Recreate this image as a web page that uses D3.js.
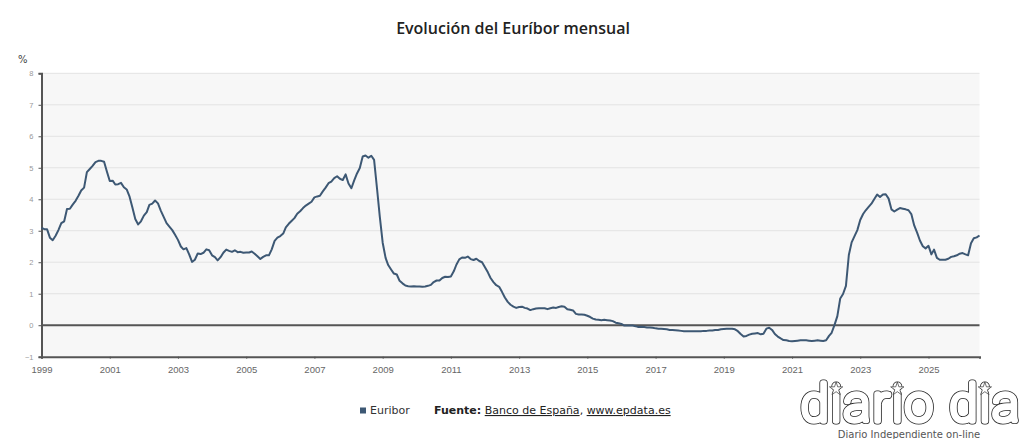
<!DOCTYPE html>
<html>
<head>
<meta charset="utf-8">
<script src="https://cdn.jsdelivr.net/npm/d3@7"></script>
<style>
  html, body { margin: 0; padding: 0; background: #fff; }
  svg { display: block; }
</style>
</head>
<body>
<div id="chart"></div>
<script>
'use strict'

// Euribor a un año, media mensual (ene 1999 - jul 2026)
const startYear = 1999;
const euribor = [
  3.09, 3.05, 3.05, 2.78, 2.70, 2.84, 3.02, 3.24, 3.30, 3.69, 3.70, 3.83,   // 1999
  3.95, 4.11, 4.28, 4.37, 4.86, 4.96, 5.06, 5.18, 5.22, 5.22, 5.19, 4.88,   // 2000
  4.58, 4.59, 4.47, 4.48, 4.52, 4.38, 4.31, 4.08, 3.73, 3.37, 3.20, 3.30,   // 2001
  3.48, 3.59, 3.82, 3.86, 3.96, 3.87, 3.64, 3.44, 3.24, 3.13, 3.02, 2.87,   // 2002
  2.71, 2.50, 2.41, 2.45, 2.25, 2.01, 2.08, 2.28, 2.26, 2.30, 2.41, 2.38,   // 2003
  2.22, 2.16, 2.06, 2.16, 2.30, 2.40, 2.36, 2.33, 2.38, 2.32, 2.33, 2.30,   // 2004
  2.31, 2.31, 2.34, 2.27, 2.19, 2.10, 2.17, 2.22, 2.22, 2.41, 2.68, 2.78,   // 2005
  2.83, 2.91, 3.11, 3.22, 3.31, 3.40, 3.54, 3.62, 3.72, 3.80, 3.86, 3.92,   // 2006
  4.06, 4.09, 4.11, 4.25, 4.37, 4.51, 4.56, 4.67, 4.73, 4.65, 4.61, 4.79,   // 2007
  4.50, 4.35, 4.59, 4.82, 4.99, 5.36, 5.39, 5.32, 5.38, 5.25, 4.35, 3.45,   // 2008
  2.62, 2.14, 1.91, 1.77, 1.64, 1.61, 1.41, 1.33, 1.26, 1.24, 1.23, 1.24,   // 2009
  1.23, 1.23, 1.22, 1.23, 1.25, 1.28, 1.37, 1.42, 1.42, 1.50, 1.54, 1.53,   // 2010
  1.55, 1.71, 1.92, 2.09, 2.15, 2.14, 2.18, 2.10, 2.07, 2.11, 2.04, 2.00,   // 2011
  1.84, 1.68, 1.50, 1.37, 1.27, 1.22, 1.06, 0.88, 0.74, 0.65, 0.59, 0.55,   // 2012
  0.58, 0.59, 0.55, 0.53, 0.48, 0.51, 0.53, 0.54, 0.54, 0.54, 0.51, 0.54,   // 2013
  0.56, 0.55, 0.58, 0.60, 0.59, 0.51, 0.49, 0.47, 0.36, 0.34, 0.34, 0.33,   // 2014
  0.30, 0.26, 0.21, 0.18, 0.17, 0.16, 0.17, 0.16, 0.15, 0.13, 0.08, 0.06,   // 2015
  0.04, -0.01, -0.01, -0.01, -0.01, -0.03, -0.06, -0.05, -0.06, -0.07, -0.07, -0.08, // 2016
  -0.10, -0.11, -0.11, -0.12, -0.13, -0.15, -0.15, -0.16, -0.17, -0.18, -0.19, -0.19, // 2017
  -0.19, -0.19, -0.19, -0.19, -0.19, -0.18, -0.18, -0.17, -0.17, -0.15, -0.15, -0.13, // 2018
  -0.12, -0.11, -0.11, -0.11, -0.13, -0.19, -0.28, -0.36, -0.34, -0.30, -0.27, -0.26, // 2019
  -0.25, -0.29, -0.27, -0.11, -0.08, -0.15, -0.28, -0.36, -0.42, -0.47, -0.48, -0.50, // 2020
  -0.51, -0.50, -0.49, -0.48, -0.48, -0.48, -0.49, -0.50, -0.49, -0.48, -0.49, -0.50, // 2021
  -0.48, -0.34, -0.24, 0.01, 0.29, 0.85, 0.99, 1.25, 2.23, 2.63, 2.83, 3.02,        // 2022
  3.34, 3.53, 3.65, 3.76, 3.86, 4.01, 4.15, 4.07, 4.15, 4.16, 4.02, 3.68,   // 2023
  3.61, 3.67, 3.72, 3.70, 3.68, 3.65, 3.53, 3.17, 2.94, 2.69, 2.51, 2.44,   // 2024
  2.52, 2.25, 2.40, 2.14, 2.08, 2.08, 2.08, 2.11, 2.17, 2.19, 2.22, 2.27,   // 2025
  2.29, 2.25, 2.22, 2.60, 2.76, 2.79, 2.85                                  // 2026
];
const xTickYears = [1999, 2001, 2003, 2005, 2007, 2009, 2011, 2013, 2015, 2017, 2019, 2021, 2023, 2025];
const yTicks = [-1, 0, 1, 2, 3, 4, 5, 6, 7, 8];

const title = "Evolución del Euríbor mensual";
const seriesName = "Euribor";
const lineColor = "#3d5874";

const W = 1024, H = 439;
const plotLeft = 41.5, plotRight = 979.5, plotTop = 73.3, plotBottom = 356.7;

const data = euribor.map((v, i) => ({ date: new Date(startYear, i, 1), value: v }));

const svg = d3.select("#chart").append("svg")
    .attr("width", W)
    .attr("height", H)
    .style("font-family", "'DejaVu Sans', sans-serif");

const x = d3.scaleTime()
    .domain(d3.extent(data, d => d.date))
    .range([plotLeft, plotRight]);

const y = d3.scaleLinear()
    .domain([d3.min(yTicks), d3.max(yTicks)])
    .range([plotBottom, plotTop]);

// fondo del área de trazado
svg.append("rect")
    .attr("x", plotLeft).attr("y", plotTop)
    .attr("width", plotRight - plotLeft).attr("height", plotBottom - plotTop)
    .attr("fill", "#f7f7f7");

// rejilla horizontal
svg.append("g")
    .selectAll("line")
    .data(yTicks.filter(d => d > 0))
    .enter()
    .append("line")
    .attr("x1", plotLeft).attr("x2", plotRight)
    .attr("y1", d => y(d)).attr("y2", d => y(d))
    .attr("stroke", "#e3e3e3")
    .attr("stroke-width", 1);

// línea de cero
svg.append("line")
    .attr("x1", plotLeft).attr("x2", plotRight)
    .attr("y1", y(0)).attr("y2", y(0))
    .attr("stroke", "#555")
    .attr("stroke-width", 2);

// eje Y
const yAxis = svg.append("g")
    .attr("transform", `translate(${plotLeft}, 0)`)
    .call(d3.axisLeft(y).tickValues(yTicks).tickSize(3).tickPadding(5).tickFormat(d3.format("d")));
yAxis.select(".domain").attr("stroke", "#555").attr("stroke-width", 2);
yAxis.selectAll(".tick line").attr("stroke", "#555");
yAxis.selectAll("text")
    .attr("fill", "#999")
    .style("font-size", "7.5px");

// eje X
const xAxis = svg.append("g")
    .attr("transform", `translate(0, ${plotBottom})`)
    .call(d3.axisBottom(x)
        .tickValues(xTickYears.map(a => new Date(a, 0, 1)))
        .tickSize(2)
        .tickPadding(8)
        .tickFormat(d3.timeFormat("%Y")));
xAxis.select(".domain").attr("stroke", "#555").attr("stroke-width", 2);
xAxis.selectAll(".tick line").attr("stroke", "#555");
xAxis.selectAll("text")
    .attr("fill", "#666")
    .style("font-size", "9.5px");

// unidad
svg.append("text")
    .attr("x", 18).attr("y", 63)
    .attr("fill", "#444")
    .style("font-size", "10px")
    .text("%");

// serie
const line = d3.line()
    .x(d => x(d.date))
    .y(d => y(d.value));

svg.append("path")
    .datum(data)
    .attr("fill", "none")
    .attr("stroke", lineColor)
    .attr("stroke-width", 2)
    .attr("stroke-linejoin", "round")
    .attr("d", line);

// título
svg.append("text")
    .attr("x", 513).attr("y", 34)
    .attr("text-anchor", "middle")
    .attr("fill", "#222")
    .style("font-family", "'Open Sans', sans-serif")
    .style("font-weight", 600)
    .style("font-size", "16px")
    .text(title);

// leyenda
svg.append("rect")
    .attr("x", 360).attr("y", 407.5)
    .attr("width", 6).attr("height", 6)
    .attr("fill", lineColor);

svg.append("text")
    .attr("x", 370).attr("y", 414)
    .attr("fill", "#333")
    .style("font-size", "11px")
    .text(seriesName);

const src = svg.append("text")
    .attr("x", 434).attr("y", 414)
    .attr("fill", "#222")
    .style("font-size", "11px");
src.append("tspan").style("font-weight", "bold").text("Fuente:");
src.append("tspan").text(" ");
src.append("tspan").style("text-decoration", "underline").text("Banco de España");
src.append("tspan").text(", ");
src.append("tspan").style("text-decoration", "underline").text("www.epdata.es");

// marca de agua "diario dia" (letras huecas)
const logo = svg.append("g");
let logoText;
[["#222", 7], ["#fff", 5.4]].forEach(([c, w]) => {
    logoText = logo.append("text")
        .attr("x", 801).attr("y", 421)
        .attr("textLength", 218)
        .attr("lengthAdjust", "spacing")
        .attr("fill", c === "#fff" ? "#fff" : "none")
        .attr("stroke", c)
        .attr("stroke-width", w)
        .attr("stroke-linejoin", "round")
        .attr("stroke-linecap", "round")
        .style("font-family", "Roboto, Lato, sans-serif")
        .style("font-weight", 100)
        .style("font-size", "50px")
        .text("diario dia");
});
const logoNode = logoText.node();
const starX = [];
"diario dia".split("").forEach((ch, i) => {
    if (ch === "i") {
        const b = logoNode.getExtentOfChar(i);
        starX.push(b.x + b.width / 2);
    }
});
logo.selectAll("path.star")
    .data(starX)
    .enter()
    .append("path")
    .attr("class", "star")
    .attr("transform", d => `translate(${d}, 389)`)
    .attr("d", d3.symbol(d3.symbolStar, 55))
    .attr("fill", "#fff")
    .attr("stroke", "#333")
    .attr("stroke-width", 0.7);
logo.append("text")
    .attr("x", 909).attr("y", 438)
    .attr("text-anchor", "middle")
    .attr("fill", "#555")
    .style("font-size", "10px")
    .text("Diario Independiente on-line");
</script>
</body>
</html>
